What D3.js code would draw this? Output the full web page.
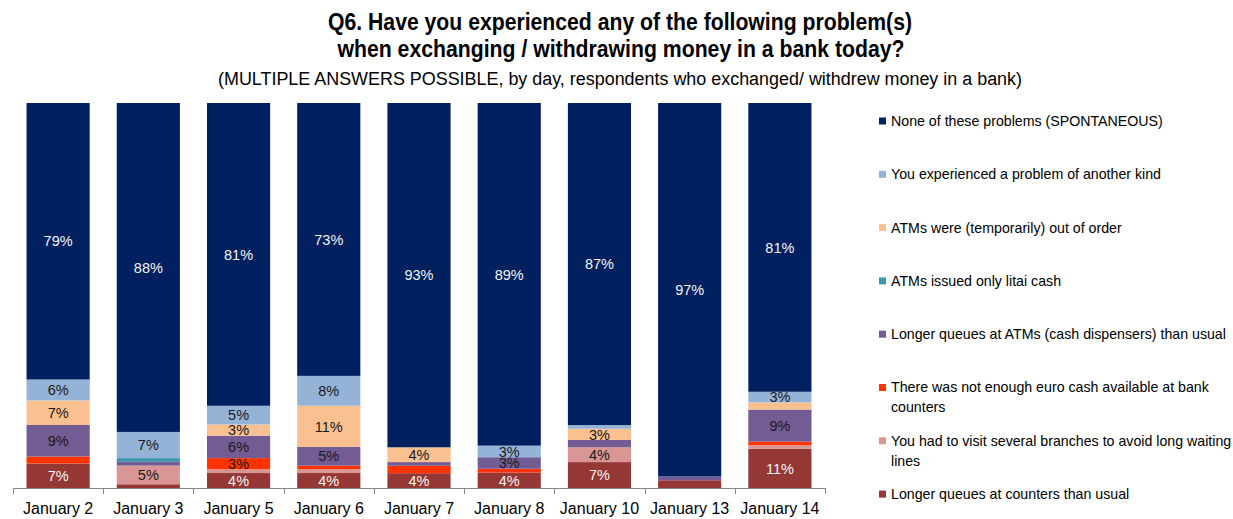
<!DOCTYPE html>
<html>
<head>
<meta charset="utf-8">
<script src="https://cdn.jsdelivr.net/npm/d3@7"></script>
<style>
  html, body { margin: 0; padding: 0; background: #fff; }
  svg { display: block; font-family: "Liberation Sans", Arial, sans-serif; }
</style>
</head>
<body>
<svg id="chart" width="1233" height="519"></svg>
<script>
// Survey days
const days = ["January 2", "January 3", "January 5", "January 6", "January 7",
              "January 8", "January 10", "January 13", "January 14"];

// Share of respondents (%) per answer, one value per day
const counterQueues   = [7, 1, 4, 4, 4, 4, 7, 2, 11];
const severalBranches = [0, 5, 1, 1, 0, 0, 4, 0, 1];
const notEnoughEuro   = [2, 0, 3, 1, 2, 1, 0, 0, 1];
const atmQueues       = [9, 1, 6, 5, 1, 3, 2, 1, 9];
const litaiOnly       = [0, 1, 0, 0, 0, 0, 0, 0, 0];
const atmOutOfOrder   = [7, 0, 3, 11, 4, 0, 3, 0, 2];
const otherProblem    = [6, 7, 5, 8, 0, 3, 1, 0, 3];
const noProblems      = [79, 88, 81, 73, 93, 89, 87, 97, 81];

// Answer keys in stacking order (bottom to top)
const answerKeys = ["counterQueues", "severalBranches", "notEnoughEuro", "atmQueues",
                    "litaiOnly", "atmOutOfOrder", "otherProblem", "noProblems"];

const answerLabels = {
  noProblems: ["None of these problems (SPONTANEOUS)"],
  otherProblem: ["You experienced a problem of another kind"],
  atmOutOfOrder: ["ATMs were (temporarily) out of order"],
  litaiOnly: ["ATMs issued only litai cash"],
  atmQueues: ["Longer queues at ATMs (cash dispensers) than usual"],
  notEnoughEuro: ["There was not enough euro cash available at bank", "counters"],
  severalBranches: ["You had to visit several branches to avoid long waiting", "lines"],
  counterQueues: ["Longer queues at counters than usual"]
};

const answerColors = {
  counterQueues: "#953735",
  severalBranches: "#DA9694",
  notEnoughEuro: "#FF3300",
  atmQueues: "#735B93",
  litaiOnly: "#3F97AF",
  atmOutOfOrder: "#FAC090",
  otherProblem: "#95B3D7",
  noProblems: "#002060"
};

const seriesValues = { counterQueues, severalBranches, notEnoughEuro, atmQueues,
                       litaiOnly, atmOutOfOrder, otherProblem, noProblems };

// Table of rows for d3.stack
const rows = days.map((day, i) => {
  const r = { day };
  answerKeys.forEach(k => { r[k] = seriesValues[k][i]; });
  return r;
});

const svg = d3.select("#chart");

// Titles
const titleFont = "'Liberation Sans', Arial, sans-serif";
svg.append("text")
  .attr("x", 620).attr("y", 30)
  .attr("text-anchor", "middle")
  .attr("font-family", titleFont)
  .attr("font-weight", "bold")
  .attr("font-size", 23)
  .attr("fill", "#000")
  .attr("textLength", 584).attr("lengthAdjust", "spacingAndGlyphs")
  .text("Q6. Have you experienced any of the following problem(s)");
svg.append("text")
  .attr("x", 621).attr("y", 57)
  .attr("text-anchor", "middle")
  .attr("font-family", titleFont)
  .attr("font-weight", "bold")
  .attr("font-size", 23)
  .attr("fill", "#000")
  .attr("textLength", 567).attr("lengthAdjust", "spacingAndGlyphs")
  .text("when exchanging / withdrawing money in a bank today?");
svg.append("text")
  .attr("x", 620).attr("y", 85)
  .attr("text-anchor", "middle")
  .attr("font-family", titleFont)
  .attr("font-size", 18)
  .attr("fill", "#000")
  .attr("textLength", 804).attr("lengthAdjust", "spacingAndGlyphs")
  .text("(MULTIPLE ANSWERS POSSIBLE, by day, respondents who exchanged/ withdrew money in a bank)");

// Scales
const x = d3.scaleBand()
  .domain(days)
  .range([13, 825])
  .paddingInner(0.3)
  .paddingOuter(0.15);

const y = d3.scaleLinear()
  .domain([0, 1])
  .range([488, 103]);

const stack = d3.stack()
  .keys(answerKeys)
  .offset(d3.stackOffsetExpand);
const layers = stack(rows);

// Bars
const layerG = svg.append("g")
  .selectAll("g")
  .data(layers)
  .join("g")
  .attr("fill", d => answerColors[d.key]);

layerG.selectAll("rect")
  .data(d => d)
  .join("rect")
  .attr("x", d => x(d.data.day))
  .attr("width", x.bandwidth())
  .attr("y", d => y(d[1]))
  .attr("height", d => Math.max(0, y(d[0]) - y(d[1])));

// Value labels (3% and more)
const labelG = svg.append("g")
  .attr("font-family", "'Liberation Sans', Arial, sans-serif")
  .attr("font-size", 14.5)
  .attr("text-anchor", "middle");

layers.forEach(layer => {
  const lightText = layer.key === "noProblems" || layer.key === "counterQueues";
  layer.forEach(d => {
    const v = d.data[layer.key];
    if (v < 3) return;
    labelG.append("text")
      .attr("x", x(d.data.day) + x.bandwidth() / 2)
      .attr("y", (y(d[0]) + y(d[1])) / 2)
      .attr("dy", "0.36em")
      .attr("fill", lightText ? "#f4f4f4" : "#1a1a1a")
      .text(v + "%");
  });
});

// Category axis
const step = x.step();
const [x0, x1] = x.range();
const axisG = svg.append("g");
axisG.append("line")
  .attr("x1", x0).attr("x2", x1)
  .attr("y1", 488.5).attr("y2", 488.5)
  .attr("stroke", "#868686").attr("stroke-width", 1);
d3.range(days.length + 1).forEach(i => {
  const tx = Math.round(x0 + i * step) + 0.5;
  axisG.append("line")
    .attr("x1", tx).attr("x2", tx)
    .attr("y1", 488).attr("y2", 494)
    .attr("stroke", "#868686").attr("stroke-width", 1);
});

const xAxis = svg.append("g")
  .attr("transform", "translate(0,488)")
  .call(d3.axisBottom(x).tickSize(0).tickPadding(15));
xAxis.select(".domain").remove();
xAxis.selectAll("text")
  .attr("font-family", "'Liberation Sans', Arial, sans-serif")
  .attr("font-size", 16)
  .attr("fill", "#000");

// Legend (top to bottom mirrors the stack from the top)
const legendKeys = answerKeys.slice().reverse();
const legend = svg.append("g")
  .attr("font-family", "'Liberation Sans', Arial, sans-serif")
  .attr("font-size", 14.2)
  .attr("fill", "#000");

legendKeys.forEach((k, i) => {
  const cy = 121 + i * 53.3;
  legend.append("rect")
    .attr("x", 879).attr("y", cy - 3.5)
    .attr("width", 7).attr("height", 7)
    .attr("fill", answerColors[k]);
  answerLabels[k].forEach((line, j) => {
    legend.append("text")
      .attr("x", 891)
      .attr("y", cy + j * 20)
      .attr("dy", "0.35em")
      .text(line);
  });
});
</script>
</body>
</html>
